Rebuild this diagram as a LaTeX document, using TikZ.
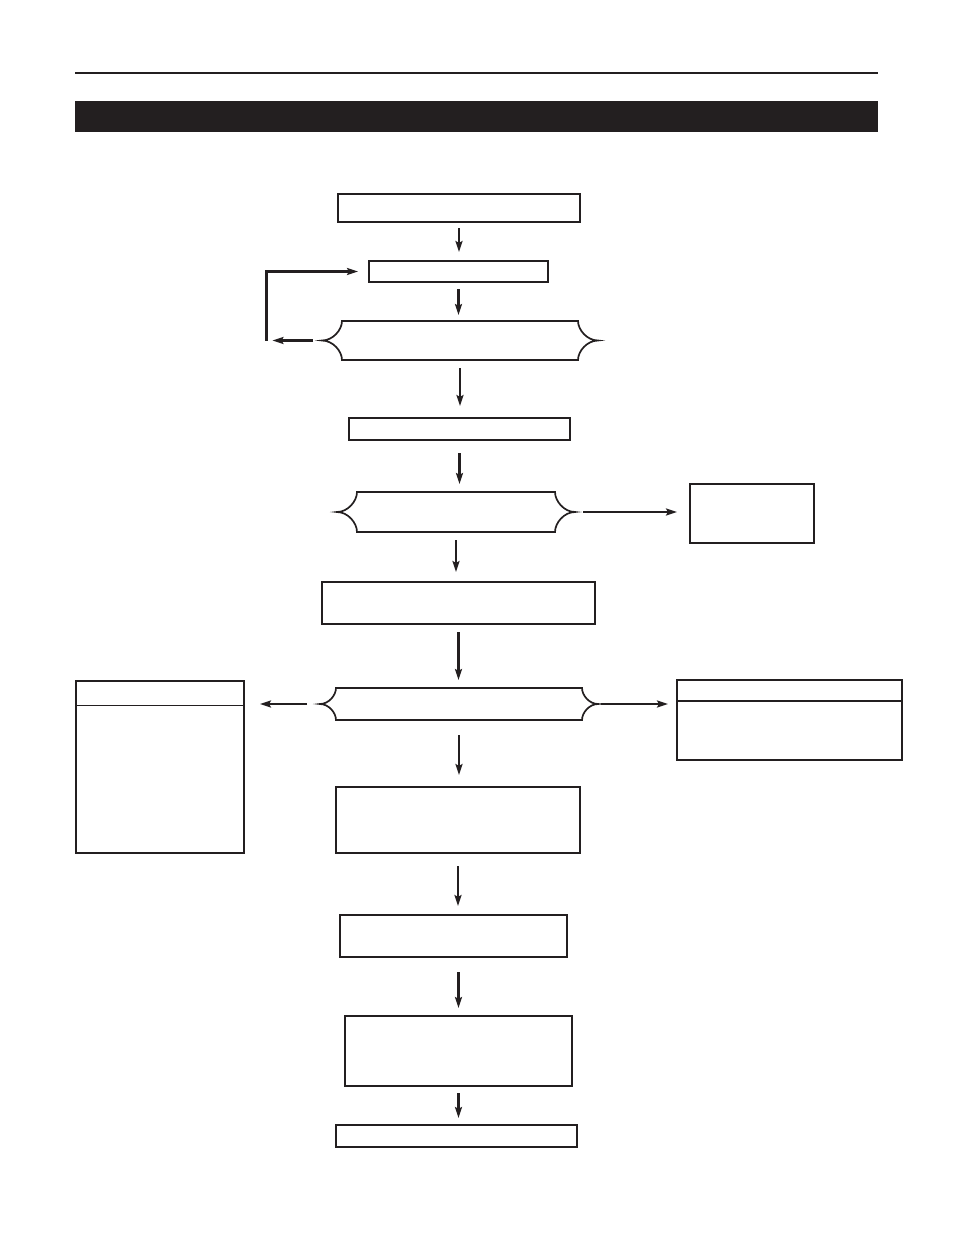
\documentclass[tikz,border=0pt]{standalone}
\usetikzlibrary{arrows.meta}
\definecolor{ink}{HTML}{231F20}
% curly-sided decision outline round an empty node: name, indent, half height
\newcommand\bracebox[3]{%
  \draw[dec line] (#1.west)
    .. controls ([xshift=0.55*#2]#1.west) and ([xshift=#2,yshift=-0.45*#3]#1.north west) .. ([xshift=#2]#1.north west)
    -- ([xshift=-#2]#1.north east)
    .. controls ([xshift=-#2,yshift=-0.45*#3]#1.north east) and ([xshift=-0.55*#2]#1.east) .. (#1.east)
    .. controls ([xshift=-0.55*#2]#1.east) and ([xshift=-#2,yshift=0.45*#3]#1.south east) .. ([xshift=-#2]#1.south east)
    -- ([xshift=#2]#1.south west)
    .. controls ([xshift=#2,yshift=0.45*#3]#1.south west) and ([xshift=0.55*#2]#1.west) .. cycle;}
\begin{document}
\begin{tikzpicture}[x=1pt,y=-1pt,>={Stealth[length=11pt,width=7pt,inset=2pt]},line width=2.2pt,draw=ink]
  \tikzset{box/.style={draw=ink, line width=2pt, inner sep=0pt, outer sep=0pt},
           dec/.style={inner sep=0pt, outer sep=0pt},
           dec line/.style={draw=ink, line width=1.7pt},
           arr/.style={->, draw=ink, line width=2.2pt, shorten <=8pt, shorten >=9pt}}
  \useasboundingbox (0,0) rectangle (954,1235);
  % page header
  \draw[ink, line width=2.4pt] (75,73) -- (878,73);
  \fill[ink] (75,101) rectangle (878,132);
  % main column
  \node[box, minimum width=242, minimum height=28] (start) at (459,208) {};
  \node[box, minimum width=179, minimum height=21] (retry) at (458.5,271.5) {};
  \node[dec, minimum width=276, minimum height=39] (chkA) at (460,340.5) {};
  \bracebox{chkA}{20}{19.5}
  \node[box, minimum width=221, minimum height=22] (stepA) at (459.5,429) {};
  \node[dec, minimum width=238, minimum height=40] (chkB) at (456,512) {};
  \bracebox{chkB}{20}{20}
  \node[box, minimum width=124, minimum height=59] (sideB) at (752,513.5) {};
  \node[box, minimum width=273, minimum height=42] (stepB) at (458.5,603) {};
  \node[dec, minimum width=278, minimum height=32] (chkC) at (459,704) {};
  \bracebox{chkC}{16}{16}
  \node[box, minimum width=168, minimum height=172] (leftC) at (160,767) {};
  \draw[ink, line width=1pt] ([yshift=-24pt]leftC.north west) -- ([yshift=-24pt]leftC.north east);
  \node[box, minimum width=225, minimum height=80] (rightC) at (789.5,720) {};
  \draw[ink, line width=2pt] ([yshift=-21pt]rightC.north west) -- ([yshift=-21pt]rightC.north east);
  \node[box, minimum width=244, minimum height=66] (stepC) at (458,820) {};
  \node[box, minimum width=227, minimum height=42] (stepD) at (453.5,936) {};
  \node[box, minimum width=227, minimum height=70] (stepE) at (458.5,1051) {};
  \node[box, minimum width=241, minimum height=22] (finish) at (456.5,1136) {};
  \coordinate (loop) at (266.5,340.5);
  % connectors
  \draw[arr, shorten <=6pt] (start.south) -- (start.south |- retry.north);
  \draw[arr, shorten <=7pt, shorten >=6pt] (retry.south) -- (retry.south |- chkA.north);
  \draw[arr, shorten >=6pt, shorten <=9pt] (chkA.west) -- (loop);
  \draw[->, ink, shorten >=11pt] (loop) |- (retry.west);
  \draw[arr, shorten >=12pt] (chkA.south) -- (chkA.south |- stepA.north);
  \draw[arr, shorten <=13pt, shorten >=8pt] (stepA.south) -- (stepA.south |- chkB.north);
  \draw[arr, shorten >=13pt] (chkB.east) -- (chkB.east -| sideB.west);
  \draw[arr, shorten >=10pt] (chkB.south) -- (chkB.south |- stepB.north);
  \draw[arr, shorten >=8pt] (stepB.south) -- (stepB.south |- chkC.north);
  \draw[arr, shorten <=13pt, shorten >=16pt] (chkC.west) -- (chkC.west -| leftC.east);
  \draw[arr, shorten <=3pt] (chkC.east) -- (chkC.east -| rightC.west);
  \draw[arr, shorten <=15pt, shorten >=12pt] (chkC.south) -- (chkC.south |- stepC.north);
  \draw[arr, shorten <=13pt] (stepC.south) -- (stepC.south |- stepD.north);
  \draw[arr, shorten <=15pt, shorten >=8pt] (stepE.north |- stepD.south) -- (stepE.north);
  \draw[arr, shorten <=7pt, shorten >=7pt] (stepE.south) -- (stepE.south |- finish.north);
\end{tikzpicture}
\end{document}
